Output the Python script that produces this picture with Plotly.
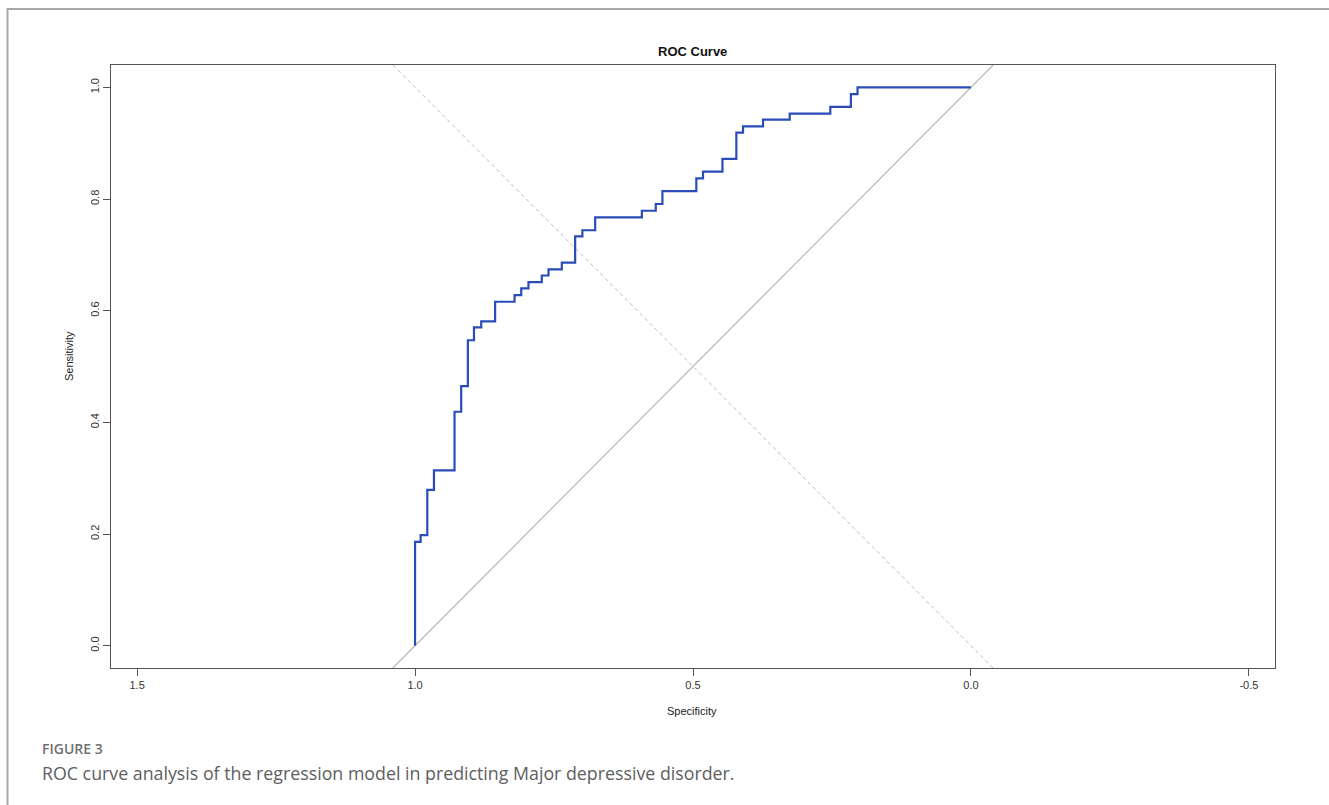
import plotly.graph_objects as go

# ROC curve vertices (specificity, sensitivity)
specificity = [1.0, 1.0, 0.990, 0.978, 0.966, 0.929, 0.917, 0.905, 0.894, 0.881,
               0.856, 0.821, 0.809, 0.796, 0.772, 0.760, 0.736, 0.712, 0.699, 0.676,
               0.592, 0.567, 0.555, 0.494, 0.482, 0.447, 0.422, 0.410, 0.374, 0.326,
               0.253, 0.216, 0.204, 0.0]
sensitivity = [0.0, 0.186, 0.198, 0.279, 0.314, 0.419, 0.465, 0.547, 0.570, 0.581,
               0.616, 0.628, 0.640, 0.651, 0.663, 0.674, 0.686, 0.733, 0.744, 0.767,
               0.779, 0.791, 0.814, 0.837, 0.849, 0.872, 0.919, 0.930, 0.942, 0.953,
               0.965, 0.988, 1.0, 1.0]

x_ticks = [1.5, 1.0, 0.5, 0.0, -0.5]
x_tick_labels = ["1.5", "1.0", "0.5", "0.0", "-0.5"]
y_ticks = [0.0, 0.2, 0.4, 0.6, 0.8, 1.0]
y_tick_labels = ["0.0", "0.2", "0.4", "0.6", "0.8", "1.0"]

title_text = "ROC Curve"
x_title = "Specificity"
y_title = "Sensitivity"
fig_label = "FIGURE 3"
caption = "ROC curve analysis of the regression model in predicting Major depressive disorder."

# plot geometry (pixels)
W, H = 1329, 805
L, R, T, B = 111, 54, 65, 137
pw, ph = W - L - R, H - T - B
XR = [1.547, -0.547]
YR = [-0.04, 1.04]

def px(xp):
    return (xp - L) / pw

def py(yp):
    return (H - B - yp) / ph

fig = go.Figure()

# chance diagonal (sens = 1 - spec) and dashed sens = spec line
fig.add_trace(go.Scatter(x=[1.04, -0.04], y=[-0.04, 1.04], mode="lines",
                         line=dict(color="#b8b8b8", width=1.2), hoverinfo="skip",
                         showlegend=False))
fig.add_trace(go.Scatter(x=[1.04, -0.04], y=[1.04, -0.04], mode="lines",
                         line=dict(color="#bdbdbd", width=1, dash="4px,3px"),
                         hoverinfo="skip", showlegend=False))

fig.add_trace(go.Scatter(x=specificity, y=sensitivity, mode="lines",
                         line=dict(color="#2a4cb8", width=2.2, shape="hv"),
                         showlegend=False))

axis_font = dict(family="Liberation Sans, Arial, sans-serif", size=11, color="#333")

fig.update_xaxes(range=XR, tickvals=x_ticks, ticktext=x_tick_labels,
                 ticks="outside", ticklen=7, tickcolor="#555", tickwidth=1,
                 showline=True, linecolor="#555", linewidth=1, mirror=True,
                 showgrid=False, zeroline=False, tickfont=axis_font)
fig.update_yaxes(range=YR, tickvals=y_ticks, ticktext=y_tick_labels,
                 ticks="outside", ticklen=7, tickcolor="#555", tickwidth=1,
                 tickangle=-90,
                 showline=True, linecolor="#555", linewidth=1, mirror=True,
                 showgrid=False, zeroline=False, tickfont=axis_font)

annotations = [
    dict(text="<b>" + title_text + "</b>", x=px(692), y=py(51), xref="paper", yref="paper",
         showarrow=False, font=dict(family="Liberation Sans, Arial, sans-serif", size=13, color="#111"),
         xanchor="center", yanchor="middle"),
    dict(text=x_title, x=px(692), y=py(711), xref="paper", yref="paper",
         showarrow=False, font=dict(family="Liberation Sans, Arial, sans-serif", size=11, color="#222"),
         xanchor="center", yanchor="middle"),
    dict(text=y_title, x=px(69), y=py(356), xref="paper", yref="paper", textangle=-90,
         showarrow=False, font=dict(family="Liberation Sans, Arial, sans-serif", size=11, color="#222"),
         xanchor="center", yanchor="middle"),
    dict(text=fig_label, x=px(40), y=py(748), xref="paper", yref="paper",
         showarrow=False, font=dict(family="Open Sans, sans-serif", size=14, color="#707070", weight=600),
         xanchor="left", yanchor="middle"),
    dict(text=caption, x=px(40), y=py(773), xref="paper", yref="paper",
         showarrow=False, font=dict(family="Open Sans, sans-serif", size=17.8, color="#5e5e5e"),
         xanchor="left", yanchor="middle"),
]

shapes = [
    dict(type="path", xref="paper", yref="paper",
         path=f"M {px(7.5)},{py(806)} L {px(7.5)},{py(9)} L {px(1332)},{py(9)}",
         line=dict(color="#a8a8a8", width=2)),
]

fig.update_layout(width=W, height=H, autosize=False,
                  margin=dict(l=L, r=R, t=T, b=B, pad=0),
                  plot_bgcolor="white", paper_bgcolor="white",
                  annotations=annotations, shapes=shapes, showlegend=False)

fig.write_html("out.html", config={"displayModeBar": False},
               post_script="document.body.style.margin='0';")
